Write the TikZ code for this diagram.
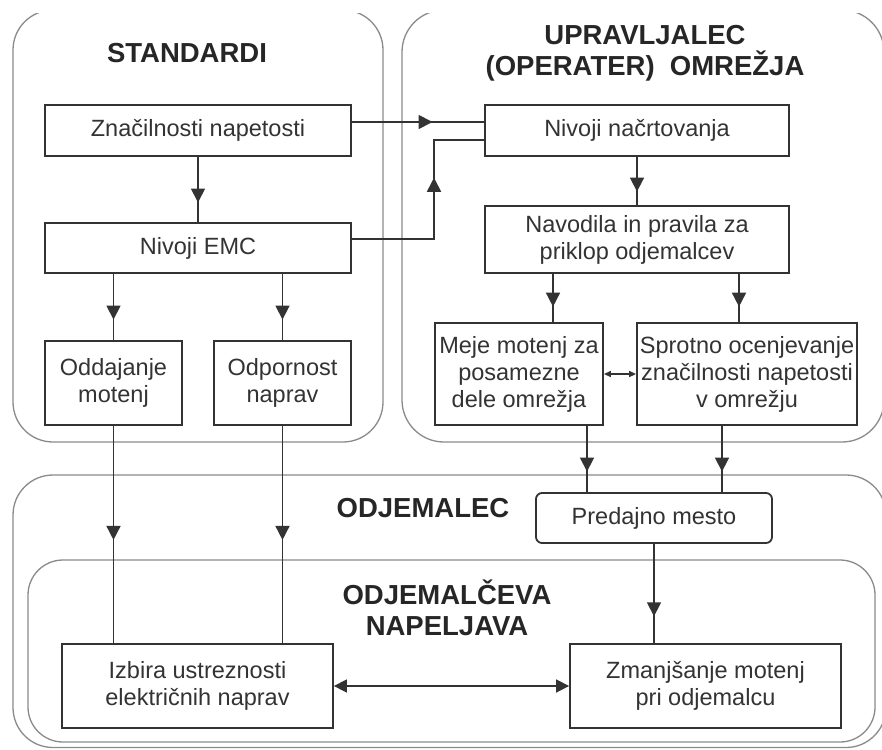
\documentclass[tikz,border=0pt]{standalone}
\usepackage{fontspec}
\setmainfont{Liberation Sans}
\usetikzlibrary{arrows.meta,decorations.markings}
\definecolor{ln}{HTML}{333333}
\definecolor{cont}{HTML}{8A8A8A}
\tikzset{
  box/.style={draw=ln, line width=1.8pt, fill=white, inner sep=0pt, align=center,
    font=\fontsize{23.5}{27}\selectfont, text=ln},
  cbox/.style={draw=cont, line width=1.3pt},
  ttl/.style={font=\fontsize{27.5}{31}\selectfont\bfseries, align=center, text=black!85},
  conn/.style={draw=ln, line width=1.6pt},
  midarr/.style={postaction={decorate,decoration={markings,
     mark=at position #1 with {\arrow{Triangle[length=14pt,width=14pt]}}}}},
  bigboth/.style={{Triangle[length=13pt,width=13pt]}-{Triangle[length=13pt,width=13pt]}},
  smallboth/.style={{Triangle[length=7pt,width=6pt]}-{Triangle[length=7pt,width=6pt]}},
}
\begin{document}
\begin{tikzpicture}[x=1pt,y=-1pt]
\useasboundingbox (0,0) rectangle (882,749);
% containers
\begin{scope}
\clip (0,13.5) rectangle (882,749);
\draw[cbox, rounded corners=40pt] (13,10) rectangle (383,442);
\draw[cbox, rounded corners=42pt] (402,10) rectangle (884,442);
\draw[cbox, rounded corners=40pt] (13,475) rectangle (886,747.5);
\draw[cbox, rounded corners=35pt] (28,560) rectangle (875,742);
\end{scope}
% titles
\node[ttl] (tstd) at (187,53) {STANDARDI};
\node[ttl] (tupr) at (645,53) {UPRAVLJALEC\\(OPERATER)~~OMREŽJA};
\node[ttl] (todj) at (423,508) {ODJEMALEC};
\node[ttl] (tnap) at (447,608) {ODJEMALČEVA\\NAPELJAVA};
% boxes
\node[box, minimum width=306pt, minimum height=51pt] (zn) at (198,130.5) {Značilnosti napetosti};
\node[box, minimum width=306pt, minimum height=50pt] (emc) at (198,248) {Nivoji EMC};
\node[box, minimum width=137pt, minimum height=84pt] (odd) at (113.5,383) {Oddajanje\\motenj};
\node[box, minimum width=137pt, minimum height=84pt] (odp) at (282.5,383) {Odpornost\\naprav};
\node[box, minimum width=304pt, minimum height=51pt] (nn) at (637,130.5) {Nivoji načrtovanja};
\node[box, minimum width=304pt, minimum height=67pt] (nav) at (637,239.5) {Navodila in pravila za\\priklop odjemalcev};
\node[box, minimum width=168pt, minimum height=102pt] (meje) at (519,374) {Meje motenj za\\posamezne\\dele omrežja};
\node[box, minimum width=220pt, minimum height=102pt] (spr) at (747,374) {Sprotno ocenjevanje\\značilnosti napetosti\\v omrežju};
\node[box, rounded corners=6pt, minimum width=236pt, minimum height=50pt] (pred) at (654,518) {Predajno mesto};
\node[box, minimum width=271pt, minimum height=84pt] (izb) at (197.5,686) {Izbira ustreznosti\\električnih naprav};
\node[box, minimum width=271pt, minimum height=84pt] (zma) at (705.5,686) {Zmanjšanje motenj\\pri odjemalcu};
% helper coordinates
\coordinate (ya) at (0,122);
\coordinate (yb) at (0,239);
\coordinate (yc) at (0,140);
\coordinate (xe) at (434,0);
\coordinate (xm) at (553,0);
\coordinate (xs) at (739,0);
\coordinate (xp) at (587,0);
\coordinate (xq) at (722,0);
% connectors
\draw[conn, midarr=0.7] (zn.south) -- (emc.north);
\draw[conn, midarr=0.69] (emc.south -| odd.north) -- (odd.north);
\draw[conn, midarr=0.69] (emc.south -| odp.north) -- (odp.north);
\draw[conn, midarr=0.61] (zn.east |- ya) -- (nn.west |- ya);
\draw[conn, midarr=0.62] (emc.east |- yb) -- (xe |- yb) -- (xe |- yc) -- (nn.west |- yc);
\draw[conn, midarr=0.72] (nn.south) -- (nav.north);
\draw[conn, midarr=0.68] (nav.south -| xm) -- (meje.north -| xm);
\draw[conn, midarr=0.68] (nav.south -| xs) -- (spr.north -| xs);
\draw[conn, line width=1.4pt, smallboth] (meje.east) -- (spr.west);
\draw[conn, midarr=0.69] (meje.south -| xp) -- (pred.north -| xp);
\draw[conn, midarr=0.69] (spr.south -| xq) -- (pred.north -| xq);
\draw[conn, midarr=0.73] (pred.south) -- (zma.north -| pred.south);
\draw[conn, midarr=0.525] (odd.south) -- (izb.north -| odd.south);
\draw[conn, midarr=0.525] (odp.south) -- (izb.north -| odp.south);
\draw[conn, bigboth] (izb.east) -- (zma.west);
\end{tikzpicture}
\end{document}
